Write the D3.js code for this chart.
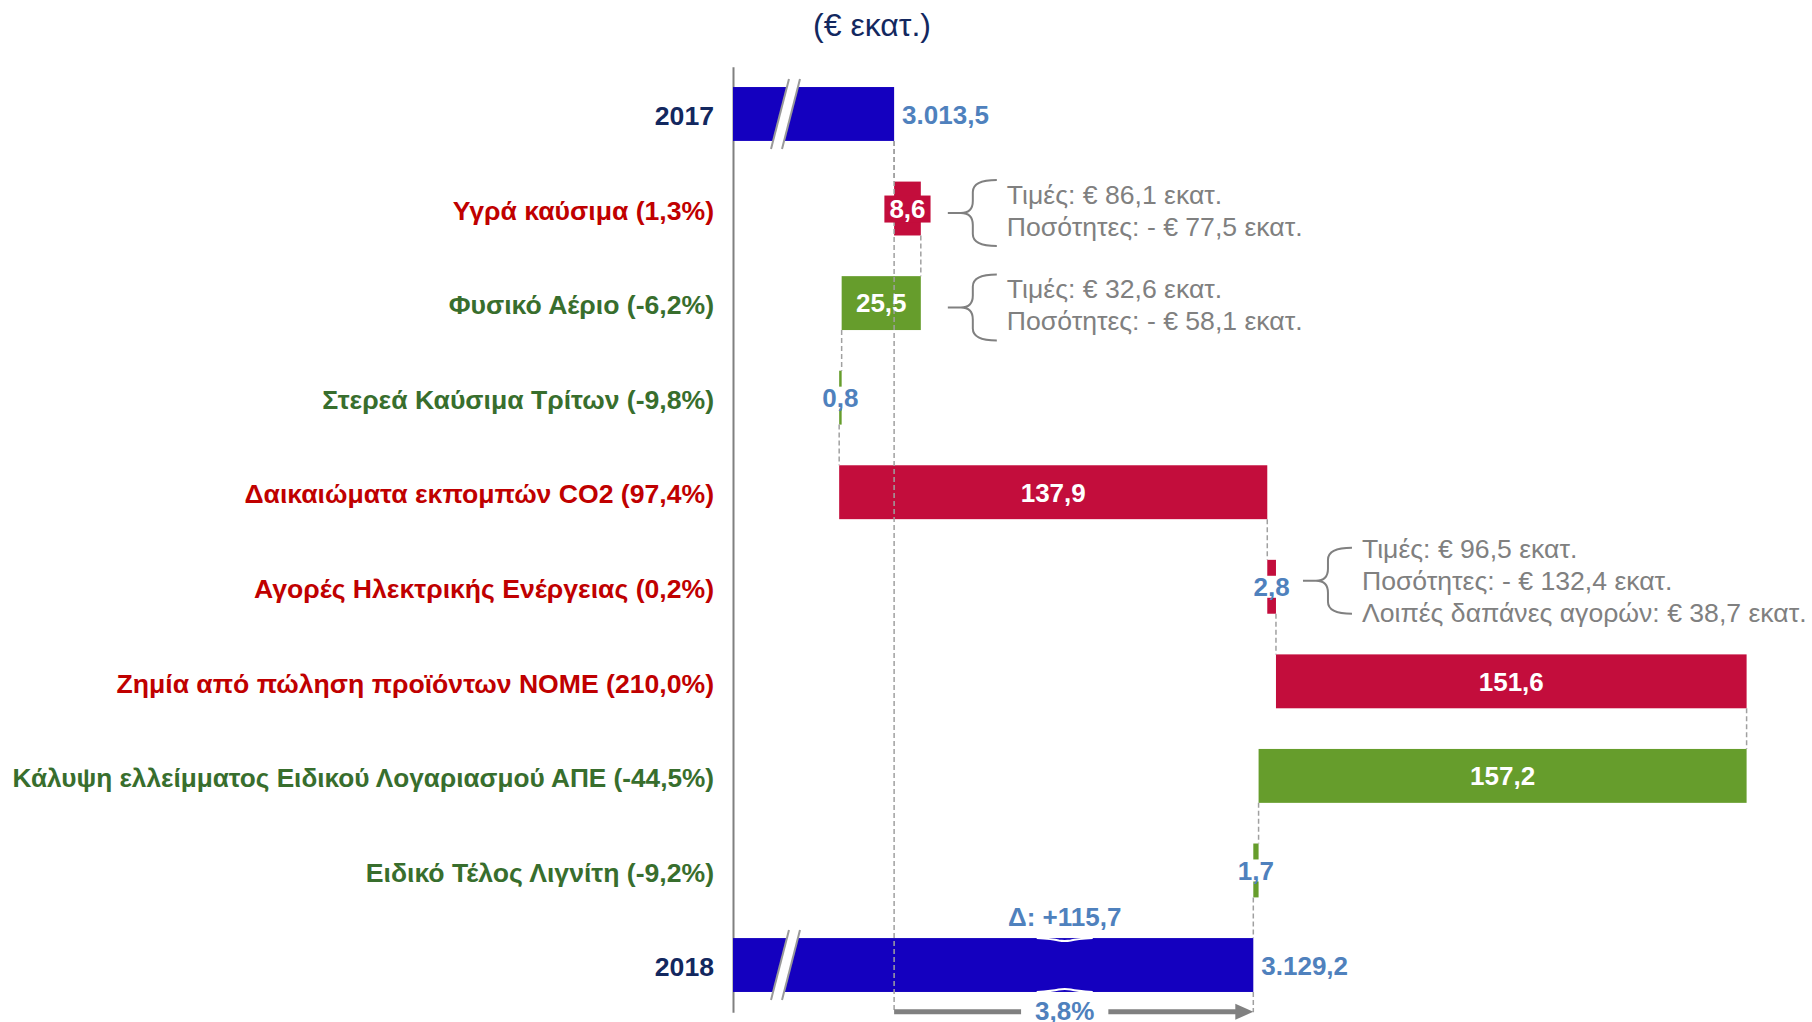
<!DOCTYPE html>
<html>
<head>
<meta charset="utf-8">
<script src="https://cdn.jsdelivr.net/npm/d3@7"></script>
<style>
  body { margin: 0; background: #fff; }
  svg { font-family: "Liberation Sans", Arial, sans-serif; display: block; }
</style>
</head>
<body>
<svg id="chart"></svg>
<script>
// waterfall data (€ million)
const categories = [
  "2017",
  "Υγρά καύσιμα (1,3%)",
  "Φυσικό Αέριο (-6,2%)",
  "Στερεά Καύσιμα Τρίτων (-9,8%)",
  "Δαικαιώματα εκπομπών CO2 (97,4%)",
  "Αγορές Ηλεκτρικής Ενέργειας (0,2%)",
  "Ζημία από πώληση προϊόντων ΝΟΜΕ (210,0%)",
  "Κάλυψη ελλείμματος Ειδικού Λογαριασμού ΑΠΕ (-44,5%)",
  "Ειδικό Τέλος Λιγνίτη (-9,2%)",
  "2018",
];
const values = [3013.5, 8.6, -25.5, -0.8, 137.9, 2.8, 151.6, -157.2, -1.7, 3129.2];
const valueLabels = ["3.013,5", "8,6", "25,5", "0,8", "137,9", "2,8", "151,6", "157,2", "1,7", "3.129,2"];

const noteRows = [1, 2, 5];
const noteTexts = [
  ["Τιμές: € 86,1 εκατ.", "Ποσότητες: - € 77,5 εκατ."],
  ["Τιμές: € 32,6 εκατ.", "Ποσότητες: - € 58,1 εκατ."],
  ["Τιμές: € 96,5 εκατ.", "Ποσότητες: - € 132,4 εκατ.", "Λοιπές δαπάνες αγορών: € 38,7 εκατ."],
];

const unitTitle = "(€ εκατ.)";
const deltaLabel = "Δ: +115,7";
const deltaPct = "3,8%";
const axisStartValue = 2961.6; // broken axis, bars start here

const colors = {
  total: "#1400BF",
  up: "#C30D3C",
  down: "#669D2C",
  labelTotal: "#13285F",
  labelUp: "#C00000",
  labelDown: "#386E2D",
  valueBlue: "#4F81BD",
  grey: "#808080",
};

showChart();

function showChart() {
  let steps = buildSteps();
  let config = getConfig();
  let scales = getScales(steps, config);

  drawAxis(steps, scales, config);
  drawBars(steps, scales, config);
  drawConnectors(steps, scales, config);
  drawValueLabels(steps, scales, config);
  drawNotes(steps, scales, config);
  drawDelta(steps, scales, config);
}

function buildSteps() {
  let running = 0;
  let last = categories.length - 1;
  return categories.map((c, i) => {
    let total = i === 0 || i === last;
    let start, end;
    if (total) {
      start = axisStartValue;
      end = values[i];
      running = values[i];
    } else {
      start = running;
      end = running + values[i];
      running = end;
    }
    return { category: c, value: values[i], label: valueLabels[i], total, start, end };
  });
}

function getConfig() {
  let width = 1812;
  let height = 1022;
  let left = 733;
  let right = 1746.6;
  let top = 66.7;
  let bottom = 1012.3;
  let container = d3.select("#chart").attr("width", width).attr("height", height);
  return { width, height, left, right, top, bottom, container };
}

function getScales(steps, config) {
  let xMax = d3.max(steps, (d) => Math.max(d.start, d.end));
  let xScale = d3.scaleLinear().domain([axisStartValue, xMax]).range([config.left, config.right]);
  let yScale = d3
    .scaleBand()
    .domain(categories)
    .range([config.top, config.bottom])
    .paddingInner(0.43)
    .paddingOuter(0.215);
  return { xScale, yScale };
}

function barColor(d) {
  if (d.total) return colors.total;
  return d.value > 0 ? colors.up : colors.down;
}

function labelColor(d) {
  if (d.total) return colors.labelTotal;
  return d.value > 0 ? colors.labelUp : colors.labelDown;
}

function drawAxis(steps, { xScale, yScale }, { container, left }) {
  container
    .append("text")
    .attr("x", 872)
    .attr("y", 36)
    .attr("text-anchor", "middle")
    .style("font-size", "32px")
    .style("fill", colors.labelTotal)
    .text(unitTitle);

  let yAxis = d3.axisLeft(yScale).tickSize(0).tickSizeOuter(0).tickPadding(19);
  let g = container.append("g").attr("transform", `translate(${left},0)`).call(yAxis);
  g.select(".domain").attr("stroke", colors.grey).attr("stroke-width", 2);
  g.selectAll(".tick text")
    .attr("dy", "0.42em")
    .style("font-family", '"Liberation Sans", Arial, sans-serif')
    .style("font-size", (d, i) => (categories[i].length > 45 ? "26.2px" : "26.6px"))
    .style("font-weight", "bold")
    .style("fill", (d, i) => labelColor(steps[i]));
}

function drawBars(steps, { xScale, yScale }, { container }) {
  let bw = yScale.bandwidth();
  container
    .append("g")
    .selectAll("rect")
    .data(steps)
    .enter()
    .append("rect")
    .attr("x", (d) => xScale(Math.min(d.start, d.end)))
    .attr("y", (d) => yScale(d.category))
    .attr("width", (d) => Math.max(2, Math.abs(xScale(d.end) - xScale(d.start))))
    .attr("height", bw)
    .style("fill", barColor);

  // axis break marks on the two total bars
  let bx = xScale.range()[0] + 47;
  steps
    .filter((d) => d.total)
    .forEach((d) => {
      let top = yScale(d.category) - 8;
      let bot = yScale(d.category) + bw + 8;
      let s = 9;
      let gap = 11;
      let brk = container.append("g");
      brk
        .append("polygon")
        .attr("points", `${bx - s},${bot} ${bx + s},${top} ${bx + s + gap},${top} ${bx - s + gap},${bot}`)
        .style("fill", "#fff");
      [0, gap].forEach((o) => {
        brk
          .append("line")
          .attr("x1", bx - s + o)
          .attr("y1", bot)
          .attr("x2", bx + s + o)
          .attr("y2", top)
          .attr("stroke", "#999")
          .attr("stroke-width", 2);
      });
    });
}

function drawConnectors(steps, { xScale, yScale }, { container, bottom }) {
  let bw = yScale.bandwidth();
  let g = container.append("g").attr("stroke", "#A0A0A0").attr("stroke-width", 1.5).attr("stroke-dasharray", "5,3");
  for (let i = 0; i < steps.length - 1; i++) {
    let x = xScale(steps[i].end);
    g.append("line")
      .attr("x1", x)
      .attr("x2", x)
      .attr("y1", yScale(steps[i].category) + bw)
      .attr("y2", yScale(steps[i + 1].category));
  }
  // long guides from both totals down to the change arrow
  let first = steps[0];
  let last = steps[steps.length - 1];
  [first, last].forEach((d) => {
    g.append("line")
      .attr("x1", xScale(d.end))
      .attr("x2", xScale(d.end))
      .attr("y1", yScale(d.category) + bw)
      .attr("y2", bottom);
  });
}

function drawValueLabels(steps, { xScale, yScale }, { container }) {
  let bw = yScale.bandwidth();
  let g = container.append("g").style("font-size", "26px").style("font-weight", "bold");
  steps.forEach((d) => {
    let x0 = xScale(Math.min(d.start, d.end));
    let x1 = xScale(Math.max(d.start, d.end));
    let cy = yScale(d.category) + bw / 2;
    if (d.total) {
      g.append("text")
        .attr("x", x1 + 8)
        .attr("y", cy)
        .attr("dy", "0.4em")
        .style("fill", colors.valueBlue)
        .text(d.label);
      return;
    }
    let cx = (x0 + x1) / 2;
    let w = x1 - x0;
    let t = g.append("text").attr("x", cx).attr("y", cy).attr("dy", "0.36em").attr("text-anchor", "middle").text(d.label);
    let tw = t.node().getComputedTextLength();
    if (w >= tw + 10) {
      t.style("fill", "#fff");
    } else {
      let small = w < 20;
      g.insert("rect", () => t.node())
        .attr("x", cx - tw / 2 - (small ? 2 : 5))
        .attr("y", cy - (small ? 11 : 13))
        .attr("width", tw + (small ? 4 : 10))
        .attr("height", small ? 22 : 27)
        .style("fill", small ? "#fff" : barColor(d));
      t.style("fill", small ? colors.valueBlue : "#fff");
    }
  });
}

function drawNotes(steps, { xScale, yScale }, { container }) {
  let bw = yScale.bandwidth();
  let g = container.append("g");
  noteRows.forEach((row, k) => {
    let d = steps[row];
    let lines = noteTexts[k];
    let twoLines = lines.length === 2;
    let tipX = xScale(Math.max(d.start, d.end)) + 27;
    let mid = yScale(d.category) + bw / 2 + (twoLines ? 1.5 : -6);
    let braceMid = mid + (twoLines ? 3 : 0);
    let gapY = 32;
    let spine = tipX + 25;
    let endX = tipX + 49;
    let half = 33;
    let r = 12;
    let yTop = braceMid - half;
    let yBot = braceMid + half;
    let path =
      `M${endX},${yTop} Q${spine},${yTop} ${spine},${yTop + r} L${spine},${braceMid - r} ` +
      `Q${spine},${braceMid} ${spine - r},${braceMid} L${tipX},${braceMid} M${spine - r},${braceMid} ` +
      `Q${spine},${braceMid} ${spine},${braceMid + r} L${spine},${yBot - r} Q${spine},${yBot} ${endX},${yBot}`;
    g.append("path").attr("d", path).attr("fill", "none").attr("stroke", colors.grey).attr("stroke-width", 2);

    let firstY = mid - ((lines.length - 1) * gapY) / 2;
    g.selectAll(null)
      .data(lines)
      .enter()
      .append("text")
      .attr("x", tipX + 59)
      .attr("y", (l, i) => firstY + i * gapY)
      .attr("dy", "0.36em")
      .style("font-size", "26.6px")
      .style("fill", colors.grey)
      .text((l) => l);
  });
}

function drawDelta(steps, { xScale, yScale }, { container, bottom }) {
  let bw = yScale.bandwidth();
  let first = steps[0];
  let last = steps[steps.length - 1];
  let xa = xScale(first.end);
  let xb = xScale(last.end);
  let cx = (xa + xb) / 2 - 9;
  let barTop = yScale(last.category);
  let barBot = barTop + bw;

  // small white waves on the 2018 bar
  [barTop, barBot].forEach((yy, i) => {
    let s = i === 0 ? 1 : -1;
    container
      .append("path")
      .attr(
        "d",
        `M${cx - 28},${yy} Q${cx - 12},${yy + s * 1} ${cx - 6},${yy + s * 2.5} Q${cx},${yy + s * 3.5} ${cx + 6},${yy + s * 2.5} Q${cx + 12},${yy + s * 1} ${cx + 28},${yy}`
      )
      .attr("fill", "none")
      .attr("stroke", "#fff")
      .attr("stroke-width", 2);
  });

  container
    .append("text")
    .attr("x", cx)
    .attr("y", barTop - 21)
    .attr("dy", "0.36em")
    .attr("text-anchor", "middle")
    .style("font-size", "26px")
    .style("font-weight", "bold")
    .style("fill", colors.valueBlue)
    .text(deltaLabel);

  let ay = bottom - 0.5;
  let g = container.append("g");
  g.append("line")
    .attr("x1", xa)
    .attr("x2", xb - 16)
    .attr("y1", ay)
    .attr("y2", ay)
    .attr("stroke", colors.grey)
    .attr("stroke-width", 5);
  g.append("polygon")
    .attr("points", `${xb - 18},${ay - 8} ${xb},${ay} ${xb - 18},${ay + 8}`)
    .style("fill", colors.grey);
  let t = g
    .append("text")
    .attr("x", cx)
    .attr("y", ay - 1)
    .attr("dy", "0.36em")
    .attr("text-anchor", "middle")
    .style("font-size", "26px")
    .style("font-weight", "bold")
    .style("fill", colors.valueBlue)
    .text(deltaPct);
  let tw = t.node().getComputedTextLength();
  g.insert("rect", () => t.node())
    .attr("x", cx - tw / 2 - 14)
    .attr("y", ay - 8)
    .attr("width", tw + 28)
    .attr("height", 16)
    .style("fill", "#fff");
}
</script>
</body>
</html>
